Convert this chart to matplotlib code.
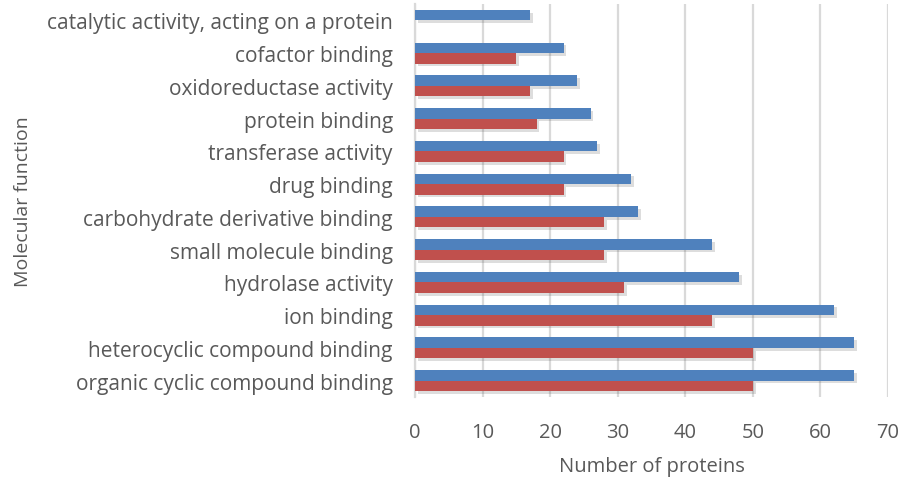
import matplotlib.pyplot as plt
import matplotlib.patheffects as pe
import numpy as np

categories = ['organic cyclic compound binding', 'heterocyclic compound binding',
              'ion binding', 'hydrolase activity', 'small molecule binding',
              'carbohydrate derivative binding', 'drug binding', 'transferase activity',
              'protein binding', 'oxidoreductase activity', 'cofactor binding',
              'catalytic activity, acting on a protein']
blue_vals = [65, 65, 62, 48, 44, 33, 32, 27, 26, 24, 22, 17]
red_vals = [50, 50, 44, 31, 28, 28, 22, 22, 18, 17, 15, 0]

plt.rcParams['font.family'] = ['Open Sans', 'DejaVu Sans']
text_col = '#595959'

fig = plt.figure(figsize=(9.01, 4.81), dpi=100)
ax = fig.add_axes([0.4606, 0.1726, 0.525, 0.817])

y = np.arange(len(categories))
h = 0.32
shadow = [pe.SimplePatchShadow(offset=(2, -2), alpha=0.2, shadow_rgbFace='#555555'), pe.Normal()]
bars_b = ax.barh(y + h / 2, blue_vals, height=h, color='#4F81BD', zorder=3)
bars_r = ax.barh(y - h / 2, red_vals, height=h, color='#C0504D', zorder=3)
for b in list(bars_b) + list(bars_r):
    b.set_path_effects(shadow)

ax.set_xlim(0, 70)
ax.set_ylim(-0.5, len(categories) - 0.5)
ax.set_xticks(range(0, 71, 10))
ax.set_yticks(y)
ax.set_yticklabels(categories)
ax.grid(axis='x', color='#D9D9D9', linewidth=1.6, zorder=0)
for s in ['top', 'right', 'bottom']:
    ax.spines[s].set_visible(False)
ax.spines['left'].set_color('#D9D9D9')
ax.spines['left'].set_linewidth(1.6)
ax.tick_params(axis='y', length=0, pad=16, labelsize=15, labelcolor=text_col)
ax.tick_params(axis='x', length=0, pad=18, labelsize=14.5, labelcolor=text_col)
ax.set_xlabel('Number of proteins', fontsize=14.5, color=text_col, labelpad=10)
ax.set_ylabel('Molecular function', fontsize=14, color=text_col)
ax.yaxis.set_label_coords(-0.81, 0.5)

fig.savefig('out.png', dpi=100)
